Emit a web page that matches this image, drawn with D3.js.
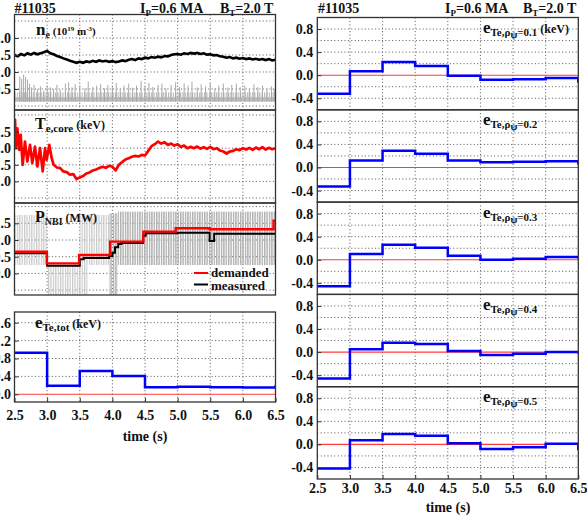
<!DOCTYPE html>
<html>
<head>
<meta charset="utf-8">
<script src="https://cdn.jsdelivr.net/npm/d3@7"></script>
<style>
body { margin: 0; background: #fff; }
svg { display: block; font-family: "Liberation Serif", "Times New Roman", serif; font-weight: bold; }
.grid { stroke: #444; stroke-width: 0.9; stroke-dasharray: 1,2.4; }
.frame { fill: none; stroke: #333; stroke-width: 1.3; }
text { white-space: pre; fill: #111; }
</style>
</head>
<body>
<svg id="fig" width="587" height="515"></svg>
<script>
// ---- data ----
var xTicks = [2.5, 3.0, 3.5, 4.0, 4.5, 5.0, 5.5, 6.0, 6.5];
var xGrid = [3.0, 3.5, 4.0, 4.5, 5.0, 5.5, 6.0];

// feedback step windows (0.5 s each)
var stepTimes = [2.5, 3.0, 3.5, 4.0, 4.5, 5.0, 5.5, 6.0];
var eTeTot = [0.93, 0.19, 0.52, 0.41, 0.16, 0.17, 0.16, 0.15];
var eTe01 = [-0.32, 0.07, 0.23, 0.16, -0.01, -0.08, -0.07, -0.05];
var eTe02 = [-0.33, 0.12, 0.29, 0.24, 0.12, 0.09, 0.10, 0.11];
var eTe03 = [-0.46, 0.10, 0.26, 0.21, 0.07, 0.00, 0.02, 0.05];
var eTe04 = [-0.46, 0.05, 0.16, 0.14, 0.02, -0.05, -0.03, 0.00];
var eTe05 = [-0.42, 0.07, 0.18, 0.15, 0.02, -0.08, -0.05, 0.01];
// value of the last sample at t = 6.5
var eTeLast = [0.20, -0.13, 0.05, 0.02, -0.03, -0.10];

// line-averaged density, sampled every 0.05 s from 2.5 s
var neT0 = 2.5, neDt = 0.05;
var neVals = [
  1.50,1.46,1.53,1.49,1.55,1.51,1.56,1.52,1.55,1.58,
  1.62,1.55,1.52,1.47,1.44,1.40,1.37,1.33,1.30,1.27,
  1.30,1.27,1.31,1.29,1.33,1.30,1.34,1.31,1.33,1.30,
  1.32,1.29,1.31,1.34,1.32,1.36,1.38,1.35,1.40,1.38,
  1.42,1.40,1.44,1.42,1.45,1.43,1.47,1.46,1.50,1.52,
  1.53,1.51,1.55,1.53,1.56,1.54,1.56,1.53,1.55,1.51,
  1.52,1.49,1.50,1.46,1.45,1.42,1.44,1.40,1.42,1.39,
  1.41,1.38,1.40,1.37,1.39,1.36,1.38,1.35,1.38,1.34,
  1.36];

// grey D-alpha like trace: background band and spikes [t, peak]
var daBand = [0.13, 0.40];
var daSpikes = [
  [2.58,0.87],[2.61,0.80],[2.64,0.92],[2.67,0.85],[2.70,0.78],[2.73,0.65],[2.76,0.55],
  [2.80,0.62],[2.85,0.50],[2.90,0.58],[2.95,0.45],[3.00,0.60],[3.05,0.55],[3.10,0.50],
  [3.15,0.62],[3.20,0.48],[3.28,0.66],[3.33,0.70],[3.38,0.55],[3.43,0.64],[3.50,0.60],
  [3.58,0.52],[3.63,0.72],[3.70,0.56],[3.76,0.60],[3.82,0.65],[3.88,0.52],[3.93,0.62],
  [4.00,0.55],[4.06,0.68],[4.12,0.50],[4.18,0.60],[4.25,0.66],[4.31,0.54],[4.37,0.60],
  [4.44,0.74],[4.50,0.58],[4.56,0.68],[4.62,0.56],[4.70,0.62],[4.76,0.66],[4.82,0.52],
  [4.90,0.62],[4.97,0.70],[5.03,0.56],[5.10,0.66],[5.16,0.60],[5.22,0.72],[5.30,0.55],
  [5.36,0.64],[5.43,0.58],[5.50,0.66],[5.57,0.52],[5.63,0.60],[5.70,0.66],[5.77,0.54],
  [5.83,0.62],[5.90,0.66],[5.96,0.55],[6.03,0.60],[6.10,0.52],[6.17,0.64],[6.23,0.56],
  [6.30,0.60],[6.37,0.52],[6.44,0.58],[6.48,0.50]];

// core Te: sawtooth phase [t, keV], then samples every 0.05 s from 3.1 s
var teEarly = [
  [2.500,2.85],[2.508,2.86],[2.523,2.00],[2.543,2.60],[2.574,1.95],[2.595,2.40],
  [2.625,1.50],[2.661,2.20],[2.697,1.60],[2.738,2.10],[2.773,1.55],[2.814,2.05],
  [2.850,1.45],[2.891,2.00],[2.932,1.30],[2.968,2.00],[2.993,1.65],[3.034,2.10],
  [3.070,1.70]];
var teT0 = 3.1, teDt = 0.05;
var teVals = [
  1.50,1.42,1.40,1.30,1.28,1.20,1.22,1.07,1.12,1.16,
  1.24,1.27,1.33,1.36,1.40,1.44,1.41,1.47,1.44,1.33,
  1.50,1.58,1.66,1.70,1.74,1.77,1.75,1.80,1.78,1.92,
  2.06,2.12,2.20,2.14,2.18,2.10,2.14,2.08,2.12,2.04,
  2.08,2.00,2.04,2.00,2.05,1.99,2.03,1.98,2.04,1.97,
  2.00,1.93,1.90,1.84,1.90,1.92,1.97,1.94,2.00,1.96,
  2.01,1.95,2.02,1.97,2.03,1.96,2.01,1.97,2.00];

// NBI power: demanded / measured steps [t, MW]
var pDemand = [[2.5,0.65],[2.995,0.30],[3.49,0.55],[3.965,0.95],[4.475,1.25],[4.97,1.35],[5.49,1.32],[6.47,1.58]];
var pMeas = [[2.5,0.60],[3.0,0.23],[3.50,0.42],[3.56,0.46],[3.95,0.52],[4.0,0.62],[4.04,0.78],
  [4.09,0.88],[4.14,0.91],[4.47,1.13],[4.51,1.20],[5.0,1.22],[5.49,0.97],[5.56,1.19],[6.0,1.19]];
// modulated beam envelope [t0, t1, low, high, shade]
var pMod = [
  [2.50, 3.00, 0.25, 1.75, "L"],
  [3.00, 3.50, -0.70, 0.25, "L"],
  [3.50, 3.95, 0.25, 1.75, "L"],
  [3.50, 3.62, -0.70, 0.25, "L"],
  [3.95, 4.08, -0.70, 1.80, "D"],
  [4.08, 6.50, 0.25, 1.85, "D"]];

// ---- drawing ----
var svg = d3.select("#fig");
var defs = svg.append("defs");
function stripes(id, col, w) {
  var p = defs.append("pattern").attr("id", id).attr("patternUnits", "userSpaceOnUse")
    .attr("width", 2.4).attr("height", 10);
  p.append("rect").attr("width", w).attr("height", 10).attr("fill", col);
}
stripes("stL", "#c9c9c9", 1.2);
stripes("stD", "#b0b0b0", 1.4);
stripes("stA", "#b4b4b4", 1.1);

var fmt = function(d) { return d.toFixed(1); };
var clipN = 0;

function panel(x0, x1, y0, y1, dom, grid, labels, pad) {
  var x = d3.scaleLinear().domain([2.5, 6.5]).range([x0, x1]);
  var y = d3.scaleLinear().domain(dom).range([y1, y0]);
  var id = "clip" + (clipN++);
  defs.append("clipPath").attr("id", id).append("rect")
    .attr("x", x0).attr("y", y0).attr("width", x1 - x0).attr("height", y1 - y0);
  var g = svg.append("g");
  g.append("g").selectAll("line").data(xGrid).join("line").attr("class", "grid")
    .attr("x1", d => x(d)).attr("x2", d => x(d)).attr("y1", y0).attr("y2", y1);
  g.append("g").selectAll("line").data(grid).join("line").attr("class", "grid")
    .attr("x1", x0).attr("x2", x1).attr("y1", d => y(d)).attr("y2", d => y(d));
  var data = g.append("g").attr("clip-path", "url(#" + id + ")");
  g.append("rect").attr("class", "frame").attr("x", x0).attr("y", y0)
    .attr("width", x1 - x0).attr("height", y1 - y0);
  var ax = g.append("g").attr("transform", "translate(" + x0 + ",0)")
    .call(d3.axisLeft(y).tickValues(labels).tickSize(-4).tickPadding(pad).tickFormat(fmt));
  ax.select(".domain").remove();
  ax.attr("font-family", null).attr("font-size", 14);
  ax.selectAll(".tick line").attr("stroke", "#333");
  return { g: g, data: data, x: x, y: y, x0: x0, x1: x1, y0: y0, y1: y1 };
}

function bottomAxis(p, pad) {
  var ax = p.g.append("g").attr("transform", "translate(0," + p.y1 + ")")
    .call(d3.axisBottom(p.x).tickValues(xTicks).tickSize(-4).tickPadding(pad).tickFormat(fmt));
  ax.select(".domain").remove();
  ax.attr("font-family", null).attr("font-size", 14);
  ax.selectAll(".tick line").attr("stroke", "#333");
}

function rich(x, y, parts) {
  var t = svg.append("text").attr("x", x).attr("y", y);
  var cur = 0;
  parts.forEach(function(p) {
    var sh = p[2] || 0;
    t.append("tspan").attr("dy", sh - cur).attr("font-size", p[1]).text(p[0]);
    cur = sh;
  });
  return t;
}

function stepLine(p, vals, last, col, w) {
  var pts = stepTimes.map(function(t, i) { return [t, vals[i]]; });
  pts.push([6.5, vals[vals.length - 1]]);
  pts.push([6.5, last]);
  p.data.append("path").datum(pts).attr("fill", "none").attr("stroke", col)
    .attr("stroke-width", w)
    .attr("d", d3.line().x(d => p.x(d[0])).y(d => p.y(d[1])).curve(d3.curveStepAfter));
}

function zeroLine(p) {
  p.data.append("line").attr("x1", p.x(2.5)).attr("x2", p.x(6.5))
    .attr("y1", p.y(0)).attr("y2", p.y(0)).attr("stroke", "#ff3b3b").attr("stroke-width", 1.1);
}

// left column
var LX0 = 14.5, LX1 = 275.5;
var L1 = panel(LX0, LX1, 14.5, 110, [-0.118, 2.691], [0, 0.5, 1, 1.5, 2, 2.5], [0.5, 1, 1.5, 2], 3.5);
var L2 = panel(LX0, LX1, 110, 203, [0.349, 3.151], [0.5, 1, 1.5, 2, 2.5, 3], [1, 1.5, 2, 2.5], 3.5);
var L3 = panel(LX0, LX1, 203, 295, [-0.647, 2.108], [-0.5, 0, 0.5, 1, 1.5, 2], [0, 0.5, 1, 1.5], 3.5);
var L4 = panel(LX0, LX1, 312, 402, [-0.172, 1.839], [0.4, 0.8, 1.2, 1.6], [0, 0.4, 0.8, 1.2, 1.6], 3.5);
bottomAxis(L4, 8);

// right column
var RX0 = 317.3, RX1 = 578.3, RH = 92.3;
var rGrid = [-0.4, -0.2, 0.2, 0.4, 0.6, 0.8], rLab = [-0.4, 0, 0.4, 0.8];
var R = [0, 1, 2, 3, 4].map(function(i) {
  return panel(RX0, RX1, 17.5 + i * RH, 17.5 + (i + 1) * RH, [-0.6, 1.0], rGrid, rLab, 4);
});
bottomAxis(R[4], 4);

// panel 1: density + grey trace
L1.data.append("rect").attr("x", L1.x(2.5)).attr("width", L1.x(6.5) - L1.x(2.5))
  .attr("y", L1.y(daBand[1])).attr("height", L1.y(daBand[0]) - L1.y(daBand[1]))
  .attr("fill", "url(#stA)");
L1.data.append("rect").attr("x", L1.x(2.5)).attr("width", L1.x(6.5) - L1.x(2.5))
  .attr("y", L1.y(0.26)).attr("height", L1.y(daBand[0]) - L1.y(0.26))
  .attr("fill", "#bcbcbc");
L1.data.append("g").selectAll("line").data(daSpikes).join("line")
  .attr("x1", d => L1.x(d[0])).attr("x2", d => L1.x(d[0]))
  .attr("y1", L1.y(daBand[0])).attr("y2", d => L1.y(d[1]))
  .attr("stroke", "#a8a8a8").attr("stroke-width", 1);
L1.data.append("path").datum(neVals).attr("fill", "none").attr("stroke", "#000")
  .attr("stroke-width", 2.6)
  .attr("d", d3.line().x((d, i) => L1.x(neT0 + i * neDt)).y(d => L1.y(d)));

// panel 2: Te core
var tePts = teEarly.concat(teVals.map(function(v, i) { return [teT0 + i * teDt, v]; }));
L2.data.append("path").datum(tePts).attr("fill", "none").attr("stroke", "#ff0000")
  .attr("stroke-width", 2.7).attr("stroke-linejoin", "round")
  .attr("d", d3.line().x(d => L2.x(d[0])).y(d => L2.y(d[1])));

// panel 3: NBI power
L3.data.append("g").selectAll("rect").data(pMod).join("rect")
  .attr("x", d => L3.x(d[0])).attr("width", d => L3.x(d[1]) - L3.x(d[0]))
  .attr("y", d => L3.y(d[3])).attr("height", d => L3.y(d[2]) - L3.y(d[3]))
  .attr("fill", d => d[4] === "D" ? "url(#stD)" : "url(#stL)");
var stepFn = d3.line().x(d => L3.x(d[0])).y(d => L3.y(d[1])).curve(d3.curveStepAfter);
L3.data.append("path").datum(pMeas.concat([[6.5, 1.19]])).attr("fill", "none")
  .attr("stroke", "#000").attr("stroke-width", 2).attr("d", stepFn);
L3.data.append("path").datum(pDemand.concat([[6.5, 1.58]])).attr("fill", "none")
  .attr("stroke", "#ff0000").attr("stroke-width", 2.4).attr("d", stepFn);
// legend
svg.append("line").attr("x1", 194).attr("x2", 208).attr("y1", 273).attr("y2", 273)
  .attr("stroke", "#ff0000").attr("stroke-width", 2);
svg.append("line").attr("x1", 194).attr("x2", 208).attr("y1", 284.5).attr("y2", 284.5)
  .attr("stroke", "#000").attr("stroke-width", 2);
svg.append("text").attr("x", 211).attr("y", 277).attr("font-size", 13).text("demanded");
svg.append("text").attr("x", 211).attr("y", 289.5).attr("font-size", 13).text("measured");

// panel 4 and right panels: errors
zeroLine(L4);
stepLine(L4, eTeTot, eTeLast[0], "#0000ff", 2.5);
[eTe01, eTe02, eTe03, eTe04, eTe05].forEach(function(v, i) {
  zeroLine(R[i]);
  stepLine(R[i], v, eTeLast[i + 1], "#0000ff", 2.5);
});

// headers
[[14.5, 140, 220], [318, 445, 523]].forEach(function(h) {
  svg.append("text").attr("x", h[0]).attr("y", 13).attr("font-size", 14).text("#11035");
  rich(h[1], 13, [["I", 14], ["P", 9, 3], ["=0.6 MA", 14, 0]]);
  rich(h[2], 13, [["B", 14], ["T", 9, 3], ["=2.0 T", 14, 0]]);
});

// panel labels
rich(36, 35, [["n", 17], ["e", 10, 3], [" (10", 11, 0], ["19", 7, -4], [" m", 11, 0], ["-3", 7, -4], [")", 11, 0]]);
rich(35, 129, [["T", 16], ["e,core", 11, 3], [" (keV)", 12, 0]]);
rich(35, 222, [["P", 16], ["NBI", 10, 3], [" (MW)", 12, 0]]);
rich(35, 328, [["e", 17], ["Te,tot", 11, 3], [" (keV)", 12, 0]]);
var rhoLab = ["0.1", "0.2", "0.3", "0.4", "0.5"];
rhoLab.forEach(function(r, i) {
  var parts = [["e", 17], ["Te,\u03c1", 11, 3], ["\u03c8", 10, 5], ["=" + r, 11, 3]];
  if (i === 0) parts.push([" (keV)", 12, 0]);
  rich(483, 33 + i * RH, parts);
});

// axis titles
svg.append("text").attr("x", 145).attr("y", 441).attr("text-anchor", "middle").attr("font-size", 14).text("time (s)");
svg.append("text").attr("x", 448).attr("y", 512).attr("text-anchor", "middle").attr("font-size", 14).text("time (s)");
</script>
</body>
</html>
